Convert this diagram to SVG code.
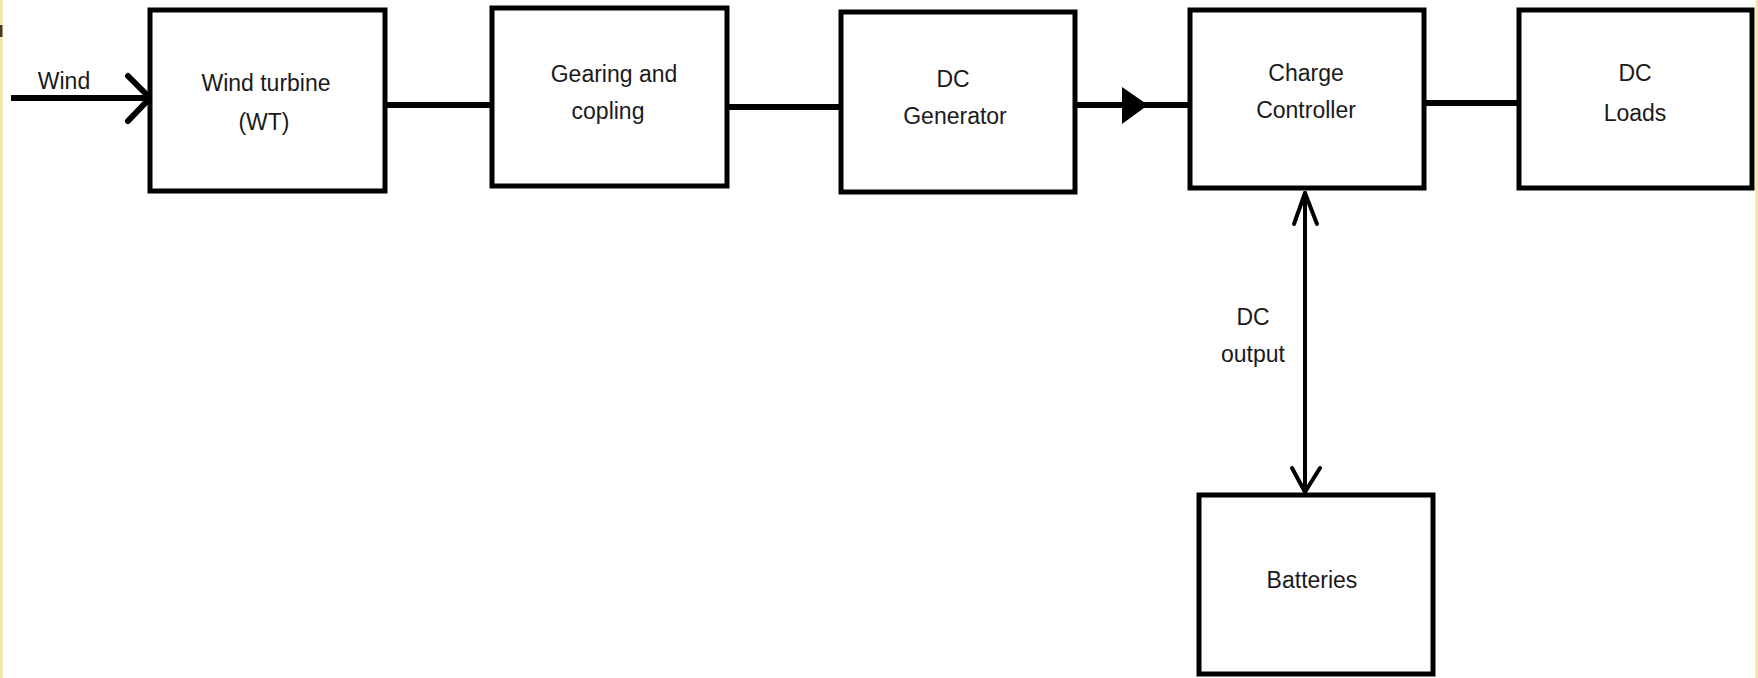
<svg xmlns="http://www.w3.org/2000/svg" width="1758" height="678" viewBox="0 0 1758 678">
<defs>
<style>
.box{fill:#fff;stroke:#000;stroke-width:5}
.ln{stroke:#000;stroke-width:6;fill:none}
.thin{stroke:#000;stroke-width:4;fill:none;stroke-linecap:round;stroke-linejoin:round}
.t{font-family:"Liberation Sans",Arial,sans-serif;font-size:23px;fill:#1a1a1a;text-anchor:middle}
</style>
</defs>
<rect x="0" y="0" width="1758" height="678" fill="#fff"/>
<rect x="0" y="0" width="2.5" height="678" fill="#f3e6a2"/>
<rect x="0" y="25" width="2.5" height="12" fill="#4a3a20"/>
<rect x="1755.5" y="0" width="2.5" height="678" fill="#f3e6a2"/>

<g id="connectors">
<line class="ln" x1="11" y1="98" x2="150" y2="98"/>
<polyline class="ln" points="128,76 150,98 128,121" stroke-linecap="round"/>
<line class="ln" x1="387" y1="105" x2="491" y2="105"/>
<line class="ln" x1="729" y1="107" x2="841" y2="107"/>
<line class="ln" x1="1077" y1="105" x2="1188" y2="105"/>
<polygon points="1122,87 1148,105 1122,124" fill="#000"/>
<line class="ln" x1="1426" y1="103" x2="1517" y2="103"/>
<line class="thin" x1="1305" y1="193" x2="1305" y2="492"/>
<polyline class="thin" points="1294,224 1305,193 1317,224"/>
<polyline class="thin" points="1292,468 1305,492 1320,468"/>
<text class="t" x="1253" y="325">DC</text>
<text class="t" x="1253" y="362">output</text>
</g>

<g id="wind-label">
<text class="t" x="64" y="89">Wind</text>
</g>

<g id="wind-turbine">
<rect class="box" x="150" y="10" width="235" height="181"/>
<text class="t" x="266" y="91">Wind turbine</text>
<text class="t" x="264" y="130">(WT)</text>
</g>

<g id="gearing">
<rect class="box" x="492" y="8" width="235" height="178"/>
<text class="t" x="614" y="82">Gearing and</text>
<text class="t" x="608" y="119">copling</text>
</g>

<g id="dc-generator">
<rect class="box" x="841" y="12" width="234" height="180"/>
<text class="t" x="953" y="87">DC</text>
<text class="t" x="955" y="124">Generator</text>
</g>

<g id="charge-controller">
<rect class="box" x="1190" y="10" width="234" height="178"/>
<text class="t" x="1306" y="81">Charge</text>
<text class="t" x="1306" y="118">Controller</text>
</g>

<g id="dc-loads">
<rect class="box" x="1519" y="10" width="233" height="178"/>
<text class="t" x="1635" y="81">DC</text>
<text class="t" x="1635" y="121">Loads</text>
</g>

<g id="batteries">
<rect class="box" x="1199" y="495" width="234" height="179"/>
<text class="t" x="1312" y="588">Batteries</text>
</g>
</svg>
